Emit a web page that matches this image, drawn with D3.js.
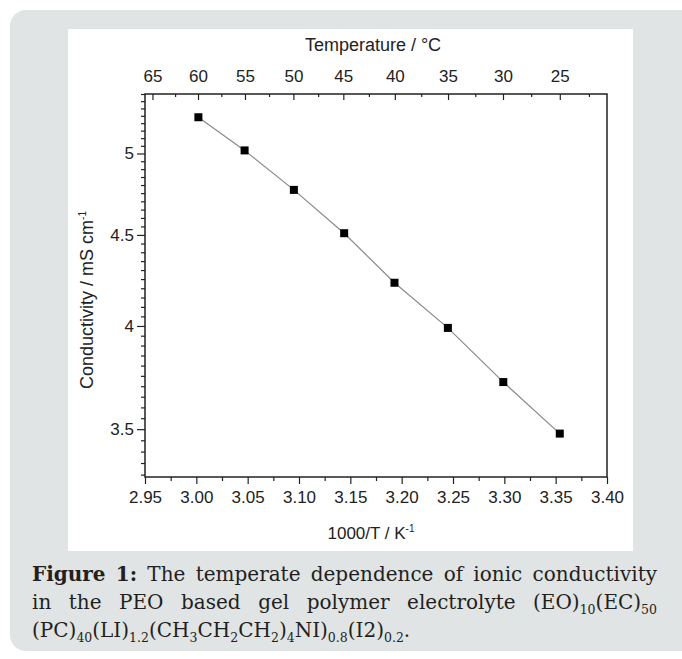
<!DOCTYPE html>
<html>
<head>
<meta charset="utf-8">
<script src="https://cdn.jsdelivr.net/npm/d3@7"></script>
<style>
  html, body { margin: 0; padding: 0; background: #fff; }
  svg { display: block; }
  .axis text { font-family: "Liberation Sans", Arial, sans-serif; font-size: 17px; fill: #222; }
  .axis line { stroke: #222; stroke-width: 1.2; }
  .axis path { display: none; }
</style>
</head>
<body>
<svg id="chart" width="682" height="659"></svg>
<script>
// data
var tempC = [60, 55, 50, 45, 40, 35, 30, 25];
var invT = [3.002, 3.047, 3.095, 3.144, 3.193, 3.245, 3.299, 3.354];
var sigma = [5.24, 5.02, 4.77, 4.51, 4.23, 3.99, 3.72, 3.48];

var xTicks = [2.95, 3.00, 3.05, 3.10, 3.15, 3.20, 3.25, 3.30, 3.35, 3.40];
var yTicks = [3.5, 4, 4.5, 5];
var topTicks = [65, 60, 55, 50, 45, 40, 35, 30, 25];

// caption words, each word is a list of [text, style] pieces ("b" bold, "s" subscript)
var captionLines = [
  { justify: true, words: [
    [["Figure", "b"]], [["1:", "b"]], [["The"]], [["temperate"]], [["dependence"]],
    [["of"]], [["ionic"]], [["conductivity"]] ] },
  { justify: true, words: [
    [["in"]], [["the"]], [["PEO"]], [["based"]], [["gel"]], [["polymer"]], [["electrolyte"]],
    [["(EO)"], ["10", "s"], ["(EC)"], ["50", "s"]] ] },
  { justify: false, words: [
    [["(PC)"], ["40", "s"], ["(LI)"], ["1.2", "s"], ["(CH"], ["3", "s"], ["CH"], ["2", "s"],
     ["CH"], ["2", "s"], [")"], ["4", "s"], ["NI)"], ["0.8", "s"], ["(I2)"], ["0.2", "s"], ["."]] ] }
];

var svg = d3.select("#chart");

var box = { left: 145, right: 607, top: 94, bottom: 477 };

// backgrounds
svg.append("rect")
  .attr("x", 10).attr("y", 10)
  .attr("width", 700).attr("height", 641)
  .attr("rx", 16).attr("ry", 16)
  .attr("fill", "#e1e4e5");

svg.append("rect")
  .attr("x", 68).attr("y", 29)
  .attr("width", 565).attr("height", 522)
  .attr("fill", "#ffffff");

var x = d3.scaleLinear().domain([2.95, 3.40]).range([box.left, box.right]);
var y = d3.scaleLog().domain([3.29, 5.40]).range([box.bottom, box.top]);

function c2x(c) { return 1000 / (c + 273.15); }

// bottom axis
var xMinor = d3.range(2.975, 3.40, 0.05);
svg.append("g").attr("class", "axis")
  .attr("transform", "translate(0," + box.bottom + ")")
  .call(d3.axisBottom(x).tickValues(xMinor).tickFormat("").tickSize(4).tickSizeOuter(0));
svg.append("g").attr("class", "axis")
  .attr("transform", "translate(0," + box.bottom + ")")
  .call(d3.axisBottom(x).tickValues(xTicks).tickFormat(d3.format(".2f"))
    .tickSize(7).tickSizeOuter(0).tickPadding(7));

// left axis
var yMinor = d3.range(3.30, 5.41, 0.05).filter(function(v) {
  return yTicks.every(function(t) { return Math.abs(t - v) > 1e-6; });
});
svg.append("g").attr("class", "axis")
  .attr("transform", "translate(" + box.left + ",0)")
  .call(d3.axisLeft(y).tickValues(yMinor).tickFormat("").tickSize(4).tickSizeOuter(0));
svg.append("g").attr("class", "axis")
  .attr("transform", "translate(" + box.left + ",0)")
  .call(d3.axisLeft(y).tickValues(yTicks).tickFormat(d3.format("")).tickSize(8)
    .tickSizeOuter(0).tickPadding(3));

// top axis, temperature, ticks inward
var topMinor = topTicks.map(function(c) { return c - 2.5; });
svg.append("g").attr("class", "axis")
  .attr("transform", "translate(0," + box.top + ")")
  .call(d3.axisTop(x).tickValues(topMinor.map(c2x)).tickFormat("").tickSize(-3).tickSizeOuter(0));
svg.append("g").attr("class", "axis")
  .attr("transform", "translate(0," + box.top + ")")
  .call(d3.axisTop(x).tickValues(topTicks.map(c2x))
    .tickFormat(function(v, i) { return topTicks[i]; })
    .tickSize(-6).tickSizeOuter(0).tickPadding(12));

// frame
svg.append("rect")
  .attr("x", box.left).attr("y", box.top)
  .attr("width", box.right - box.left).attr("height", box.bottom - box.top)
  .attr("fill", "none").attr("stroke", "#222").attr("stroke-width", 1.5);

// axis titles
var titleFont = '"Liberation Sans", Arial, sans-serif';

svg.append("text")
  .attr("x", 373).attr("y", 51)
  .attr("text-anchor", "middle")
  .attr("font-family", titleFont).attr("font-size", 18).attr("fill", "#222")
  .text("Temperature / °C");

var xt = svg.append("text")
  .attr("x", 371).attr("y", 539)
  .attr("text-anchor", "middle")
  .attr("font-family", titleFont).attr("font-size", 17).attr("fill", "#222");
xt.append("tspan").text("1000/T / K");
xt.append("tspan").attr("dy", -7).attr("font-size", 10).text("-1");

var yt = svg.append("text")
  .attr("transform", "translate(93,300) rotate(-90)")
  .attr("text-anchor", "middle")
  .attr("font-family", titleFont).attr("font-size", 18).attr("fill", "#222");
yt.append("tspan").text("Conductivity / mS cm");
yt.append("tspan").attr("dy", -7).attr("font-size", 10).text("-1");

// data line and markers
var pts = invT.map(function(v, i) { return { x: v, y: sigma[i], t: tempC[i] }; });

svg.append("path")
  .datum(pts)
  .attr("fill", "none")
  .attr("stroke", "#8a8a8a")
  .attr("stroke-width", 1.2)
  .attr("d", d3.line().x(function(d) { return x(d.x); }).y(function(d) { return y(d.y); }));

svg.append("g")
  .selectAll("rect")
  .data(pts)
  .enter().append("rect")
  .attr("x", function(d) { return x(d.x) - 4; })
  .attr("y", function(d) { return y(d.y) - 4; })
  .attr("width", 8).attr("height", 8)
  .attr("fill", "#000");

// caption, justified by hand
var capLeft = 32, capRight = 657;
var capBase = [581, 609, 637];
var capFont = '"DejaVu Serif", "Liberation Serif", serif';
var capSize = 20, subSize = 12.5;

captionLines.forEach(function(line, li) {
  var g = svg.append("g");
  var nodes = line.words.map(function(word) {
    var t = g.append("text")
      .attr("y", capBase[li])
      .attr("font-family", capFont).attr("font-size", capSize).attr("fill", "#231f20");
    var prevSub = false;
    word.forEach(function(piece) {
      var s = t.append("tspan").text(piece[0]);
      var isSub = piece[1] === "s";
      if (piece[1] === "b") s.attr("font-weight", "bold");
      if (isSub) s.attr("font-size", subSize).attr("dy", 5);
      else if (prevSub) s.attr("dy", -5);
      prevSub = isSub;
    });
    return t;
  });
  var widths = nodes.map(function(t) { return t.node().getComputedTextLength(); });
  var total = d3.sum(widths);
  var gap = line.justify && nodes.length > 1
    ? (capRight - capLeft - total) / (nodes.length - 1)
    : 5;
  var cx = capLeft;
  nodes.forEach(function(t, i) {
    t.attr("x", cx);
    cx += widths[i] + gap;
  });
});
</script>
</body>
</html>
